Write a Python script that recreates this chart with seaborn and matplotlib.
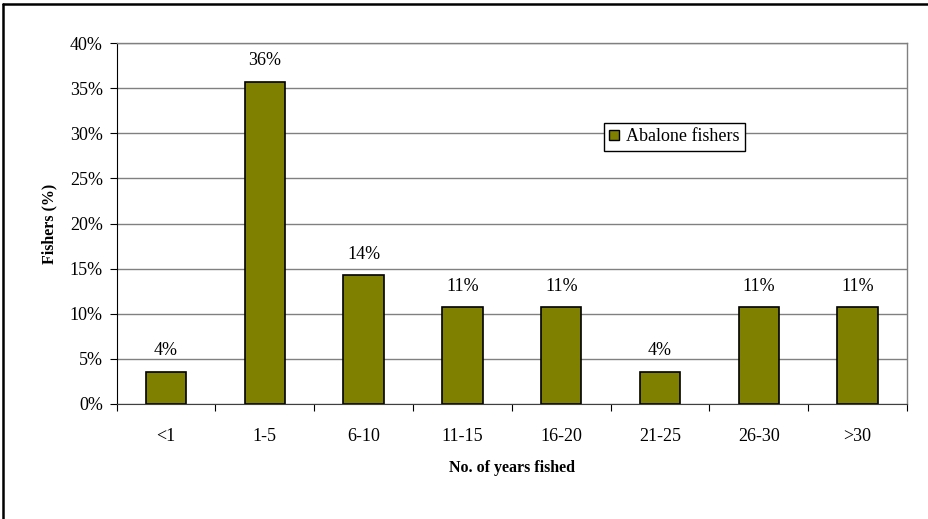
import numpy as np
import pandas as pd
import matplotlib
matplotlib.use('Agg')
import matplotlib.pyplot as plt
from matplotlib.lines import Line2D
import seaborn as sns

# data
categories = ['<1', '1-5', '6-10', '11-15', '16-20', '21-25', '26-30', '>30']
fishers_pct = [3.57, 35.71, 14.29, 10.71, 10.71, 3.57, 10.71, 10.71]
bar_labels = ['4%', '36%', '14%', '11%', '11%', '4%', '11%', '11%']

df = pd.DataFrame({'years': categories, 'pct': fishers_pct})

sns.set_style('white')
plt.rcParams['font.family'] = ['Liberation Serif', 'DejaVu Serif']
plt.rcParams['text.color'] = 'black'
plt.rcParams['axes.labelcolor'] = 'black'
plt.rcParams['xtick.color'] = 'black'
plt.rcParams['ytick.color'] = 'black'

fig = plt.figure(figsize=(9.29, 5.19), dpi=100)
ax = fig.add_axes([0.1256, 0.2216, 0.8507, 0.6955])

sns.barplot(data=df, x='years', y='pct', color='#808000', edgecolor='black',
            linewidth=1.2, width=0.41, saturation=1, ax=ax, label='Abalone fishers')

# value labels
ax.bar_label(ax.containers[0], labels=bar_labels, padding=9, fontsize=13)

ax.set_ylim(0, 40)
ax.set_xlim(-0.5, 7.5)
ax.set_yticks(np.arange(0, 41, 5))
ax.set_yticklabels(['%d%%' % v for v in range(0, 41, 5)], fontsize=13)
ax.set_xticks(np.arange(-0.5, 8, 1))
ax.set_xticklabels([])
ax.set_xticks(np.arange(8), minor=True)
ax.set_xticklabels(categories, minor=True, fontsize=13)
ax.tick_params(axis='x', which='minor', length=0, pad=17)
ax.tick_params(axis='x', which='major', direction='out', length=5, color='black', bottom=True)
ax.tick_params(axis='y', direction='out', length=5, color='black', left=True, pad=5)

ax.yaxis.grid(True, color='#808080', linewidth=1)
ax.set_axisbelow(True)
for s in ['top', 'right']:
    ax.spines[s].set_color('#808080')
    ax.spines[s].set_linewidth(1)
ax.spines['left'].set_color('black')
ax.spines['bottom'].set_color('#404040')

ax.set_xlabel('No. of years fished', fontsize=11.5, fontweight='bold', labelpad=11)
ax.set_ylabel('Fishers (%)', fontsize=11.5, fontweight='bold', labelpad=9)

handle = plt.Rectangle((0, 0), 1, 1, facecolor='#808000', edgecolor='black', linewidth=1)
leg = ax.legend([handle], ['Abalone fishers'], loc='center', bbox_to_anchor=(0.706, 0.74),
                frameon=True, fancybox=False, fontsize=13, handlelength=0.55, handleheight=0.55,
                handletextpad=0.4, borderpad=0.3, borderaxespad=0, edgecolor='black',
                framealpha=1)
leg.get_frame().set_linewidth(1)

# outer border (top and left only visible)
fig.add_artist(Line2D([3 / 929, 1], [1 - 4 / 519, 1 - 4 / 519], color='black', linewidth=1.8,
                      transform=fig.transFigure))
fig.add_artist(Line2D([3 / 929, 3 / 929], [0, 1 - 4 / 519], color='black', linewidth=1.8,
                      transform=fig.transFigure))

fig.savefig('out.png', dpi=100)
